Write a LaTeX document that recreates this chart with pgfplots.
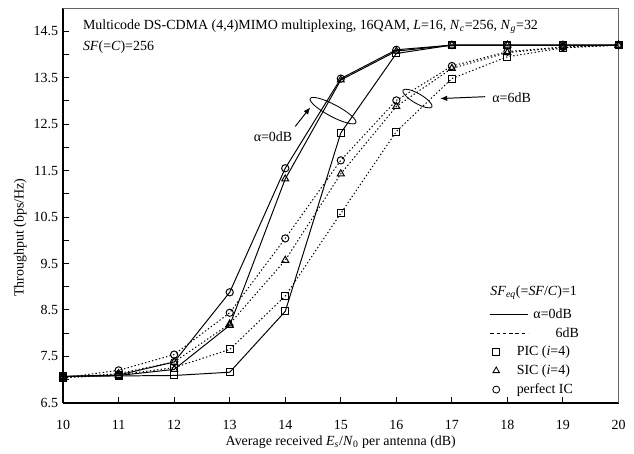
\documentclass[border=0pt]{standalone}
\usepackage{fontspec}
\setmainfont{Liberation Serif}
\usepackage{pgfplots}
\pgfplotsset{compat=1.18}
\usetikzlibrary{arrows.meta,shapes.geometric}

\begin{document}
\begin{tikzpicture}[font=\fontsize{10}{12}\selectfont]
\begin{axis}[
    name=ax,
    scale only axis,
    width=398pt, height=283pt,
    xmin=10, xmax=20, ymin=6.5, ymax=15,
    xtick={10,...,20},
    ytick={6.5,7.5,...,14.5},
    minor ytick={7,8,...,14},
    axis x line*=bottom, axis y line*=left,
    axis line style={line width=0.9pt,-},
    tick align=inside,
    major tick length=4pt, minor tick length=4pt,
    tick style={black,line width=0.7pt},
    /pgf/number format/assume math mode=true,
    /pgf/number format/fixed,
    ticklabel style={font=\fontsize{10}{12}\selectfont},
    xticklabel style={yshift=-9pt},
    xlabel={Average received \textit{E}\textsubscript{\textit{s}}/\textit{N}\textsubscript{0} per antenna (dB)},
    ylabel={Throughput (bps/Hz)},
    xlabel style={at={(axis description cs:0.5,-0.1)},anchor=center},
    ylabel style={at={(axis description cs:-0.077,0.418)},anchor=center},
    clip=false,
    legend cell align=left,
    legend style={draw=none,fill=none,at={(axis description cs:0.761,0.25)},anchor=north west,
        row sep=3pt,font=\fontsize{10}{12}\selectfont,nodes={inner sep=1pt}},
    every axis plot/.append style={black,line width=0.7pt,mark options={solid,fill=white},mark size=2.5pt},
]

% alpha = 0dB (solid)
\addplot[forget plot,mark=square] coordinates {
 (10,7.07) (11,7.08) (12,7.09) (13,7.16) (14,8.47) (15,12.31) (16,14.02) (17,14.2) (18,14.2) (19,14.2) (20,14.2)};
\addplot[forget plot,mark=triangle,mark size=2.9pt] coordinates {
 (10,7.07) (11,7.09) (12,7.22) (13,8.17) (14,11.32) (15,13.45) (16,14.07) (17,14.2) (18,14.2) (19,14.2) (20,14.2)};
\addplot[forget plot,mark=o,mark size=2.6pt] coordinates {
 (10,7.07) (11,7.1) (12,7.38) (13,8.88) (14,11.55) (15,13.48) (16,14.1) (17,14.2) (18,14.2) (19,14.2) (20,14.2)};

% alpha = 6dB (dotted)
\addplot[forget plot,mark=square,dash pattern=on 1pt off 1.6pt] coordinates {
 (10,7.04) (11,7.1) (12,7.26) (13,7.65) (14,8.80) (15,10.58) (16,12.34) (17,13.48) (18,13.95) (19,14.14) (20,14.2)};
\addplot[forget plot,mark=triangle,mark size=2.9pt,dash pattern=on 1pt off 1.6pt] coordinates {
 (10,7.04) (11,7.13) (12,7.38) (13,8.2) (14,9.57) (15,11.43) (16,12.88) (17,13.7) (18,14.04) (19,14.15) (20,14.2)};
\addplot[forget plot,mark=o,mark size=2.6pt,dash pattern=on 1pt off 1.6pt] coordinates {
 (10,7.04) (11,7.2) (12,7.54) (13,8.44) (14,10.04) (15,11.72) (16,13.01) (17,13.75) (18,14.06) (19,14.16) (20,14.2)};

% legend
\addlegendimage{legend image code/.code={\draw[line width=0.7pt,overlay] (0pt,0pt)--(27pt,0pt); \path[draw=none,fill=none] (0pt,-2pt) rectangle (18pt,2pt);}}
\addlegendentry{\hspace{12pt}α=0dB}
\addlegendimage{legend image code/.code={\draw[line width=0.7pt,dash pattern=on 2.5pt off 2pt,overlay] (0pt,0pt)--(27pt,0pt); \path[draw=none,fill=none] (0pt,-2pt) rectangle (18pt,2pt);}}
\addlegendentry{\hspace{12pt}\phantom{α=0}6dB}
\addlegendimage{legend image code/.code={\path[draw=none,fill=none] (0pt,-2pt) rectangle (18pt,2pt); \draw[line width=0.6pt] plot[mark=square,mark size=2.5pt,mark options={fill=white}] coordinates {(4.3pt,0pt)};}}
\addlegendentry{PIC (\textit{i}=4)}
\addlegendimage{legend image code/.code={\path[draw=none,fill=none] (0pt,-2pt) rectangle (18pt,2pt); \draw[line width=0.6pt] plot[mark=triangle,mark size=2.7pt,mark options={fill=white}] coordinates {(4.3pt,0pt)};}}
\addlegendentry{SIC (\textit{i}=4)}
\addlegendimage{legend image code/.code={\path[draw=none,fill=none] (0pt,-2pt) rectangle (18pt,2pt); \draw[line width=0.6pt] plot[mark=o,mark size=2.5pt,mark options={fill=white}] coordinates {(4.3pt,0pt)};}}
\addlegendentry{perfect IC}

% frame top and right
\draw[black!60,line width=0.5pt] (rel axis cs:0,1) -- (rel axis cs:1,1) -- (rel axis cs:1,0);

% texts
\node[anchor=west] at (axis description cs:0.027,0.952) {Multicode DS-CDMA (4,4)MIMO multiplexing, 16QAM, \textit{L}=16, \textit{N}\textsubscript{\textit{c}}=256, \textit{N}\textsubscript{\textit{g}}=32};
\node[anchor=west] at (axis description cs:0.027,0.901) {\textit{SF}(=\textit{C})=256};
\node[anchor=east] at (axis description cs:0.934,0.278) {\textit{SF}\textsubscript{\textit{eq}}(=\textit{SF}/\textit{C})=1};

% annotations
\node[draw,ellipse,line width=0.6pt,minimum width=37pt,minimum height=8.6pt,inner sep=0pt,rotate=-28] at (axis cs:14.86,12.79) {};
\draw[line width=0.7pt,-{Latex[length=5pt,width=4pt]}] (axis cs:14.18,12.45) -- (axis cs:14.45,12.86);
\node at (axis cs:13.78,12.23) {α=0dB};
\node[draw,ellipse,line width=0.6pt,minimum width=24pt,minimum height=7pt,inner sep=0pt,rotate=-30] at (axis cs:16.38,13.05) {};
\draw[line width=0.7pt,-{Latex[length=5pt,width=4pt]}] (axis cs:17.6,13.09) -- (axis cs:16.79,13.05);
\node[anchor=west] at (axis cs:17.64,13.06) {α=6dB};
\end{axis}
\path (ax.south west) ++(-45.2pt,-33pt) coordinate (bl);
\path (ax.north east) ++(11.1pt,5.7pt) coordinate (tr);
\path (bl) rectangle (tr);
\end{tikzpicture}
\end{document}
